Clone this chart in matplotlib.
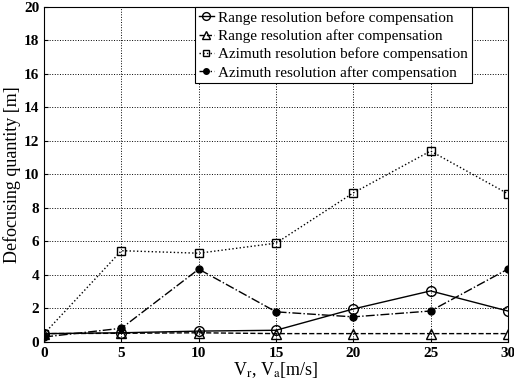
import numpy as np
import matplotlib.pyplot as plt

plt.rcParams['font.family'] = ['Liberation Serif', 'DejaVu Serif']
plt.rcParams['mathtext.fontset'] = 'stix'

v = [0, 5, 10, 15, 20, 25, 30]
range_before = [0.5, 0.55, 0.65, 0.7, 1.97, 3.05, 1.85]
range_after = [0.5, 0.52, 0.55, 0.5, 0.5, 0.5, 0.5]
azimuth_before = [0.5, 5.45, 5.3, 5.9, 8.9, 11.4, 8.85]
azimuth_after = [0.3, 0.82, 4.35, 1.8, 1.5, 1.85, 4.35]

fig = plt.figure(figsize=(5.14, 3.86), dpi=100)
ax = fig.add_axes([0.086, 0.114, 0.902, 0.868])

ax.plot(v, range_before, color='k', ls='-', lw=1.0, marker='o', ms=7,
        mfc='none', mec='k', label='Range resolution before compensation')
ax.plot(v, range_after, color='k', ls='--', lw=1.0, marker='^', ms=7,
        mfc='none', mec='k', label='Range resolution after compensation')
ax.plot(v, azimuth_before, color='k', ls=':', lw=1.0, marker='s', ms=6,
        mfc='none', mec='k', label='Azimuth resolution before compensation')
ax.plot(v, azimuth_after, color='k', ls='-.', lw=1.0, marker='o', ms=5,
        mfc='k', mec='k', label='Azimuth resolution after compensation')

ax.set_xlim(0, 30)
ax.set_ylim(0, 20)
ax.set_xticks(np.arange(0, 31, 5))
ax.set_yticks(np.arange(0, 21, 2))
ax.tick_params(labelsize=11, direction='in', length=3)
for lab in ax.get_xticklabels() + ax.get_yticklabels():
    lab.set_fontweight('bold')
ax.grid(True, ls=':', color='k', lw=0.7)

ax.set_xlabel(r'V$_\mathrm{r}$, V$_\mathrm{a}$[m/s]', fontsize=13, labelpad=0)
ax.set_ylabel('Defocusing quantity [m]', fontsize=13, labelpad=2)

leg = ax.legend(loc='upper right', bbox_to_anchor=(0.923, 1.0), fontsize=11,
                fancybox=False, framealpha=1, edgecolor='k', borderpad=0.25,
                labelspacing=0.3, handlelength=1.0, handletextpad=0.3,
                borderaxespad=0.0, markerscale=0.8)
leg.get_frame().set_linewidth(0.8)

fig.savefig('out.png', dpi=100)
